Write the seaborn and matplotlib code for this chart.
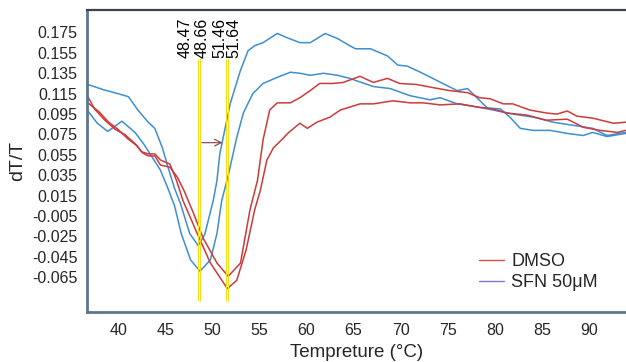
import numpy as np
import pandas as pd
import matplotlib
matplotlib.use("Agg")
import matplotlib.pyplot as plt
from matplotlib.lines import Line2D
import seaborn as sns

# ---------------- data ----------------
sfn1_t = [36.8, 38.4, 40.0, 41.1, 42.1, 43.2, 43.9, 44.7, 45.3, 46.0, 46.6, 47.6, 48.5, 49.2, 50.1, 50.5,
          50.8, 51.9, 53.0, 53.8, 54.5, 55.4, 56.9, 57.9, 59.3, 60.4, 62.0, 63.3, 64.6, 65.2, 66.8, 68.6,
          69.7, 70.7, 72.1, 73.4, 74.9, 76.0, 77.1, 78.1, 79.2, 80.6, 81.6, 82.7, 84.1, 85.9, 87.7, 89.4,
          90.4, 91.9, 93.9]
sfn1_v = [0.124, 0.119, 0.115, 0.112, 0.099, 0.087, 0.081, 0.062, 0.043, 0.022, 0.008, -0.022, -0.034,
          -0.023, 0.010, 0.030, 0.056, 0.105, 0.138, 0.157, 0.162, 0.165, 0.174, 0.170, 0.165, 0.165,
          0.174, 0.169, 0.162, 0.159, 0.159, 0.152, 0.143, 0.142, 0.136, 0.130, 0.123, 0.118, 0.120,
          0.111, 0.101, 0.100, 0.092, 0.081, 0.079, 0.079, 0.076, 0.074, 0.077, 0.073, 0.076]

sfn2_t = [36.8, 37.8, 38.9, 40.4, 41.8, 42.7, 43.6, 44.5, 45.3, 46.0, 46.7, 47.7, 48.7, 49.8, 50.5, 51.0,
          51.7, 52.6, 53.3, 54.3, 55.4, 56.9, 58.3, 59.3, 60.4, 61.8, 63.3, 64.6, 65.2, 67.1, 68.9, 71.0,
          73.1, 74.2, 76.0, 78.1, 79.8, 81.9, 84.1, 86.2, 88.3, 90.4, 91.9, 93.9]
sfn2_v = [0.098, 0.086, 0.078, 0.088, 0.077, 0.066, 0.053, 0.040, 0.022, 0.005, -0.022, -0.048, -0.059,
          -0.048, -0.022, 0.010, 0.035, 0.072, 0.096, 0.115, 0.125, 0.131, 0.136, 0.135, 0.133, 0.135,
          0.133, 0.130, 0.128, 0.122, 0.120, 0.113, 0.109, 0.111, 0.105, 0.102, 0.099, 0.095, 0.092,
          0.087, 0.084, 0.081, 0.074, 0.077]

dmso1_t = [36.8, 38.0, 39.0, 40.0, 41.0, 42.0, 42.6, 43.2, 43.9, 44.5, 45.5, 46.3, 47.0, 48.0, 49.0, 50.5,
           51.7, 53.0, 54.0, 54.8, 55.4, 56.1, 56.9, 58.3, 59.3, 60.4, 61.4, 62.8, 63.9, 65.7, 67.1, 68.6,
           69.9, 71.7, 73.4, 75.2, 77.1, 78.4, 79.5, 80.9, 81.9, 83.7, 85.5, 86.6, 87.7, 88.7, 90.4, 92.6,
           93.9]
dmso1_v = [0.106, 0.097, 0.087, 0.080, 0.071, 0.064, 0.057, 0.054, 0.054, 0.045, 0.043, 0.033, 0.020,
           -0.002, -0.026, -0.051, -0.064, -0.051, 0.001, 0.030, 0.070, 0.099, 0.106, 0.106, 0.111, 0.118,
           0.125, 0.125, 0.126, 0.132, 0.126, 0.130, 0.125, 0.124, 0.121, 0.118, 0.116, 0.111, 0.110,
           0.105, 0.105, 0.099, 0.096, 0.095, 0.098, 0.093, 0.091, 0.086, 0.087]

dmso2_t = [36.8, 37.5, 38.6, 39.7, 40.7, 41.8, 42.5, 43.2, 43.9, 44.5, 45.5, 46.2, 46.9, 48.4, 49.8, 51.6,
           52.6, 53.6, 54.5, 55.1, 55.8, 56.5, 57.5, 58.0, 59.3, 60.1, 61.1, 62.5, 63.6, 65.7, 67.1, 69.2,
           71.0, 72.4, 74.2, 76.3, 78.1, 79.8, 81.3, 83.4, 85.5, 87.7, 89.4, 91.2, 93.0, 93.9]
dmso2_v = [0.112, 0.100, 0.089, 0.080, 0.075, 0.066, 0.058, 0.056, 0.056, 0.050, 0.046, 0.030, 0.010,
           -0.022, -0.051, -0.076, -0.068, -0.038, 0.001, 0.020, 0.050, 0.062, 0.071, 0.076, 0.086, 0.081,
           0.087, 0.092, 0.099, 0.105, 0.105, 0.108, 0.106, 0.106, 0.104, 0.105, 0.102, 0.100, 0.096,
           0.094, 0.089, 0.090, 0.082, 0.079, 0.077, 0.079]

tm_values = [48.47, 48.66, 51.46, 51.64]
tm_labels = ["48.47", "48.66", "51.46", "51.64"]
tm_label_x = [47.1, 48.9, 50.8, 52.3]

legend_labels = ["DMSO", "SFN 50\u03bcM"]
x_ticks = [40, 45, 50, 55, 60, 65, 70, 75, 80, 85, 90]
y_ticks = [-0.065, -0.045, -0.025, -0.005, 0.015, 0.035, 0.055, 0.075, 0.095, 0.115, 0.135, 0.155, 0.175]

# ---------------- build long table ----------------
frames = []
for name, grp, t, v in [("SFN_1", "SFN", sfn1_t, sfn1_v), ("SFN_2", "SFN", sfn2_t, sfn2_v),
                        ("DMSO_1", "DMSO", dmso1_t, dmso1_v), ("DMSO_2", "DMSO", dmso2_t, dmso2_v)]:
    frames.append(pd.DataFrame({"temp": t, "dTT": v, "sample": name, "group": grp}))
df = pd.concat(frames, ignore_index=True)

# ---------------- style ----------------
sns.set_theme(style="white")
plt.rcParams["font.family"] = ["Liberation Sans", "DejaVu Sans"]
plt.rcParams["axes.unicode_minus"] = False

fig = plt.figure(figsize=(6.26, 3.62), dpi=100)
ax = fig.add_axes([87 / 626, 1 - 312 / 362, (626 - 87) / 626, (312 - 10) / 362])

red = "#cc3b3b"
blue = "#3d8fd2"
sns.lineplot(data=df, x="temp", y="dTT", hue="group", units="sample", estimator=None,
             palette={"DMSO": red, "SFN": blue}, sort=False, legend=False, lw=1.1, ax=ax)

# Tm lines
ax.vlines(tm_values, -0.088, 0.149, colors="#f3dc1a", lw=0.8, zorder=3)
for x, lab in zip(tm_label_x, tm_labels):
    ax.text(x, 0.1495, lab, rotation=90, ha="center", va="bottom", fontsize=11.5, color="black")

# shift arrow
ax.annotate("", xy=(51.1, 0.067), xytext=(48.9, 0.067),
            arrowprops=dict(arrowstyle="->", color="#8a5555", lw=0.9, shrinkA=0, shrinkB=0))

ax.set_xlim(36.7, 93.93)
ax.set_ylim(-0.099, 0.197)
ax.set_xticks(x_ticks)
ax.set_yticks(y_ticks)
ax.set_yticklabels([f"{v:.3f}" for v in y_ticks])
ax.tick_params(axis="x", direction="in", length=3, width=0.8, color="#7a8aa0", labelsize=11.5, pad=8)
ax.tick_params(axis="y", direction="in", length=0, labelsize=11.5, pad=7)
ax.set_xlabel("Tempreture (\u00b0C)", fontsize=13.5, labelpad=4)
ax.set_ylabel("dT/T", fontsize=14, labelpad=4)

for side in ["left", "bottom"]:
    ax.spines[side].set_color("#5d7591")
    ax.spines[side].set_linewidth(2.0)
ax.spines["top"].set_color("#3b4250")
ax.spines["top"].set_linewidth(1.6)
ax.spines["right"].set_visible(False)

handles = [Line2D([0], [0], color="#e04848", lw=1.0),
           Line2D([0], [0], color="#7b78d8", lw=1.0)]
ax.legend(handles, legend_labels, loc="lower left", bbox_to_anchor=(0.727, 0.07), frameon=False,
          fontsize=13, borderpad=0, borderaxespad=0, handlelength=1.4, handletextpad=0.4,
          labelspacing=0.2)

fig.savefig("out.png", dpi=100)
